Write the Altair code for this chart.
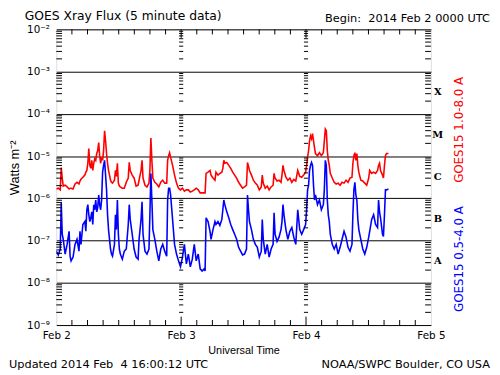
import altair as alt
import pandas as pd
import numpy as np

# ---- data (hours since 2014-02-02 00:00 UTC, log10 of flux in W m^-2) ----
hours = [
    0.00, 0.38, 0.76, 0.95, 1.14, 1.33, 1.70, 2.08, 2.46, 2.65,
    2.84, 3.22, 3.60, 3.98, 4.36, 4.55, 4.74, 5.11, 5.49, 5.68,
    5.87, 6.06, 6.25, 6.44, 6.63, 6.82, 7.01, 7.20, 7.39, 7.58,
    7.77, 7.96, 8.15, 8.33, 8.52, 8.71, 8.90, 9.09, 9.28, 9.47,
    9.66, 9.85, 10.04, 10.23, 10.42, 10.61, 10.80, 11.18, 11.37, 11.55,
    11.74, 11.93, 12.12, 12.31, 12.69, 13.07, 13.45, 13.83, 14.02, 14.21,
    14.59, 14.96, 15.34, 15.72, 15.91, 16.29, 16.48, 16.67, 17.05, 17.43,
    17.81, 17.99, 18.18, 18.37, 18.56, 18.94, 19.32, 19.70, 20.08, 20.46,
    20.84, 21.22, 21.40, 21.59, 21.78, 21.97, 22.35, 22.73, 23.11, 23.49,
    23.87, 24.25, 24.62, 25.00, 25.38, 25.76, 26.14, 26.52, 26.90, 27.28,
    27.66, 28.03, 28.41, 28.60, 28.79, 29.17, 29.55, 29.74, 30.12, 30.50,
    30.69, 31.07, 31.44, 31.82, 32.01, 32.20, 32.39, 32.77, 33.15, 33.53,
    33.91, 34.28, 34.66, 35.04, 35.42, 35.80, 36.18, 36.56, 36.75, 36.94,
    37.13, 37.51, 37.88, 38.26, 38.64, 39.02, 39.40, 39.59, 39.78, 40.16,
    40.54, 40.91, 41.29, 41.67, 41.86, 42.05, 42.43, 42.81, 43.19, 43.38,
    43.57, 43.76, 44.13, 44.51, 44.89, 45.27, 45.65, 46.03, 46.41, 46.79,
    47.17, 47.54, 47.92, 48.11, 48.30, 48.49, 48.68, 48.87, 49.06, 49.25,
    49.44, 49.63, 49.82, 50.20, 50.58, 50.95, 51.33, 51.52, 51.71, 51.90,
    52.09, 52.28, 52.47, 52.66, 53.04, 53.42, 53.80, 54.17, 54.55, 54.93,
    55.31, 55.69, 56.07, 56.45, 56.83, 57.01, 57.20, 57.39, 57.58, 57.77,
    57.96, 58.15, 58.53, 58.91, 59.29, 59.67, 60.05, 60.24, 60.62, 60.99,
    61.37, 61.75, 61.94, 62.13, 62.32, 62.70, 62.88, 63.08, 63.27, 63.46,
    63.84,
]

long_log10 = [  # GOES15 1.0-8.0 A (red)
    -5.78, -5.76, -5.80, -5.27, -5.52, -5.71, -5.69, -5.73, -5.78, -5.76,
    -5.76, -5.78, -5.66, -5.62, -5.66, -5.59, -5.55, -5.50, -5.45, -5.38,
    -5.34, -5.17, -4.82, -5.22, -5.29, -5.10, -5.34, -5.17, -5.06, -5.10,
    -4.94, -4.87, -4.68, -4.99, -5.17, -5.03, -5.10, -4.87, -4.40, -4.64,
    -4.94, -5.17, -5.34, -5.45, -5.57, -5.62, -5.64, -5.57, -5.34, -5.48,
    -5.17, -5.64, -5.71, -5.73, -5.76, -5.76, -5.62, -5.52, -5.15, -5.34,
    -5.45, -5.52, -5.71, -5.69, -5.57, -5.34, -5.10, -5.52, -5.69, -5.73,
    -5.64, -5.34, -4.57, -5.10, -5.52, -5.62, -5.66, -5.73, -5.62, -5.57,
    -5.64, -5.64, -5.10, -4.99, -4.92, -5.03, -5.22, -5.45, -5.64, -5.76,
    -5.80, -5.76, -5.83, -5.80, -5.80, -5.85, -5.83, -5.80, -5.76, -5.80,
    -5.87, -5.87, -5.87, -5.87, -5.41, -5.38, -5.34, -5.45, -5.52, -5.57,
    -5.38, -5.45, -5.41, -5.38, -5.29, -5.10, -5.17, -5.15, -5.22, -5.29,
    -5.38, -5.45, -5.52, -5.62, -5.69, -5.76, -5.73, -5.69, -5.15, -5.24,
    -5.34, -5.45, -5.57, -5.64, -5.69, -5.80, -5.73, -5.45, -5.64, -5.76,
    -5.71, -5.80, -5.73, -5.69, -5.41, -5.52, -5.59, -5.57, -5.62, -5.45,
    -5.22, -5.34, -5.50, -5.57, -5.52, -5.62, -5.55, -5.59, -5.34, -5.48,
    -5.50, -5.45, -5.38, -5.22, -5.03, -4.87, -4.64, -4.52, -4.59, -4.47,
    -4.64, -4.80, -4.94, -4.99, -4.92, -4.99, -4.92, -4.64, -4.36, -4.40,
    -4.87, -5.10, -5.22, -5.41, -5.52, -5.62, -5.66, -5.64, -5.69, -5.62,
    -5.64, -5.57, -5.62, -5.52, -5.50, -5.17, -4.99, -4.92, -5.10, -4.94,
    -5.22, -5.38, -5.57, -5.59, -5.64, -5.69, -5.52, -5.34, -5.41, -5.38,
    -5.41, -5.34, -5.22, -5.17, -5.34, -5.45, -5.52, -5.22, -4.99, -4.94,
    -4.94,
]

short_log10 = [  # GOES15 0.5-4.0 A (blue)
    -7.25, -7.34, -7.20, -6.11, -6.85, -6.97, -7.32, -7.09, -6.78, -7.37,
    -7.48, -7.39, -7.09, -6.97, -7.25, -6.78, -7.09, -6.62, -6.55, -6.78,
    -6.27, -6.15, -6.39, -6.55, -6.46, -6.32, -6.62, -6.15, -6.27, -6.04,
    -6.32, -6.22, -5.92, -6.15, -6.27, -6.04, -5.38, -5.22, -5.10, -5.45,
    -5.80, -6.39, -6.74, -6.97, -7.20, -7.32, -7.37, -7.09, -6.39, -6.74,
    -6.04, -6.85, -7.20, -7.32, -7.44, -7.25, -7.20, -6.62, -6.15, -6.50,
    -6.85, -7.20, -7.39, -7.44, -6.97, -6.50, -6.08, -6.85, -7.25, -7.32,
    -7.20, -6.39, -5.41, -6.04, -6.74, -6.97, -7.25, -7.48, -7.20, -7.09,
    -7.25, -7.37, -6.04, -5.76, -5.76, -5.92, -6.50, -7.09, -7.32, -7.48,
    -7.62, -7.39, -7.09, -7.55, -7.32, -7.62, -7.44, -7.09, -7.48, -7.32,
    -7.67, -7.72, -7.67, -7.72, -6.46, -6.55, -6.78, -6.97, -6.74, -6.55,
    -6.62, -6.55, -6.64, -6.50, -6.27, -6.04, -6.15, -6.32, -6.46, -6.62,
    -6.74, -6.85, -6.97, -7.16, -7.25, -7.34, -7.32, -7.20, -5.92, -6.27,
    -6.55, -6.74, -6.97, -7.09, -7.16, -7.39, -7.25, -6.50, -6.97, -7.32,
    -7.09, -7.39, -7.20, -7.09, -6.34, -6.85, -7.02, -6.92, -6.74, -6.55,
    -6.15, -6.39, -6.74, -6.97, -6.78, -6.69, -6.92, -7.09, -6.27, -6.74,
    -6.85, -6.74, -6.62, -6.27, -5.80, -5.69, -5.34, -5.22, -5.15, -5.22,
    -5.69, -6.04, -5.92, -6.15, -6.04, -6.27, -6.15, -5.80, -5.10, -5.22,
    -6.04, -6.39, -6.55, -6.85, -7.09, -7.20, -7.09, -7.32, -7.16, -6.97,
    -6.78, -6.92, -7.16, -7.25, -7.09, -6.39, -5.80, -5.62, -5.92, -6.04,
    -6.50, -6.74, -6.97, -7.20, -7.32, -7.16, -6.92, -6.78, -6.50, -6.39,
    -6.62, -6.69, -6.04, -6.32, -6.46, -6.85, -6.90, -6.39, -5.80, -5.80,
    -5.78,
]

series_names = ["GOES15 1.0-8.0 A", "GOES15 0.5-4.0 A"]
series_colors = ["#ff0000", "#0000ff"]

day_hours = [0, 24, 48, 72]
day_labels = ["Feb 2", "Feb 3", "Feb 4", "Feb 5"]
decade_exps = [-9, -8, -7, -6, -5, -4, -3, -2]
superscripts = ["⁰", "¹", "²", "³", "⁴", "⁵", "⁶", "⁷", "⁸", "⁹"]
class_letters = ["A", "B", "C", "M", "X"]
class_flux = [3.2e-8, 3.2e-7, 3.2e-6, 3.2e-5, 3.2e-4]
hour_ticks = list(range(3, 72, 3))

# ---- tables ----
df = pd.DataFrame({
    "hours": hours + hours,
    "flux": [10 ** v for v in long_log10] + [10 ** v for v in short_log10],
    "series": [series_names[0]] * len(hours) + [series_names[1]] * len(hours),
    "order": [0] * len(hours) + [1] * len(hours),
})

decade_vals = [10.0 ** e for e in decade_exps]
minor_vals = [m * 10.0 ** e for e in range(-9, -2) for m in range(2, 10)]

ytick_rows = []
for v in minor_vals:
    for a, b in [(0, 1.1), (70.9, 72), (23.6, 24.4), (47.6, 48.4)]:
        ytick_rows.append({"hours": a, "x2": b, "flux": v})
ytick_df = pd.DataFrame(ytick_rows)

xtick_rows = []
for h in hour_ticks:
    d = 0.2 if h % 24 == 0 else 0.12
    xtick_rows.append({"hours": h, "flux": 1e-9, "y2": 10 ** (-9 + d)})
    xtick_rows.append({"hours": h, "flux": 1e-2, "y2": 10 ** (-2 - d)})
xtick_df = pd.DataFrame(xtick_rows)

letters_df = pd.DataFrame({"letter": class_letters, "flux": class_flux})

# ---- scales & axes ----
FONT = "DejaVu Sans"
FONT2 = "Liberation Sans"
X_SCALE = alt.Scale(domain=[0, 72], nice=False, zero=False)
Y_SCALE = alt.Scale(type="log", domain=[1e-9, 1e-2], nice=False)

sup_arr = "[" + ",".join("'" + s + "'" for s in superscripts) + "]"
day_arr = "[" + ",".join("'" + s + "'" for s in day_labels) + "]"

x_axis = alt.Axis(
    values=day_hours, labelExpr=day_arr + "[round(datum.value/24)]",
    title="Universal Time", grid=False, ticks=False, tickSize=0, domain=False,
    labelFontSize=10.5, labelPadding=6, labelColor="black", labelFont=FONT,
    titleFontSize=11, titleFontWeight="normal", titlePadding=3,
    titleColor="black", titleFont=FONT2, labelFlush=False,
)
y_axis = alt.Axis(
    values=decade_vals,
    labelExpr="'10⁻' + " + sup_arr + "[round(-log(datum.value)/LN10)]",
    title="Watts m⁻²", grid=True, gridColor="black", gridOpacity=1, gridWidth=1,
    ticks=False, tickSize=0, domain=False,
    labelFontSize=10.5, labelPadding=7, labelColor="black", labelFont=FONT,
    titleFontSize=13, titleFontWeight="normal", titlePadding=5, titleY=140,
    titleColor="black", titleFont=FONT2, labelFlush=False,
)


def X(field):
    return alt.X(field, type="quantitative", scale=X_SCALE, axis=x_axis, title="Universal Time")


def Y(field):
    return alt.Y(field, type="quantitative", scale=Y_SCALE, axis=y_axis, title="Watts m⁻²")


lines = alt.Chart(df).mark_line(strokeWidth=1.6, clip=True).encode(
    x=X("hours"),
    y=Y("flux"),
    color=alt.Color("series:N", scale=alt.Scale(domain=series_names, range=series_colors), legend=None),
    order="order:Q",
)

yticks = alt.Chart(ytick_df).mark_rule(color="black", strokeWidth=1).encode(
    x=X("hours"),
    x2="x2:Q",
    y=Y("flux"),
)

xticks = alt.Chart(xtick_df).mark_rule(color="black", strokeWidth=1).encode(
    x=X("hours"),
    y=Y("flux"),
    y2="y2:Q",
)

letters = alt.Chart(letters_df).mark_text(
    font="DejaVu Serif", fontWeight="bold", fontSize=10, color="black", align="center", baseline="middle"
).encode(
    x=alt.value(387),
    y=Y("flux"),
    text="letter:N",
)


def label(txt, x, y, size=12, color="black", align="left", angle=0, font=FONT, baseline="middle"):
    return alt.Chart(pd.DataFrame({"t": [txt]})).mark_text(
        font=font, fontSize=size, color=color, align=align, baseline=baseline, angle=angle
    ).encode(text="t:N", x=alt.value(x), y=alt.value(y))


NB = "\u00a0"
texts = [
    label("GOES Xray Flux (5 minute data)", -32, -19, size=12.5, baseline="top"),
    label("Begin:" + NB + NB + "2014 Feb 2 0000 UTC", 440, -10, size=11.5, align="right"),
    label(series_names[0], 409, 102, size=12, color=series_colors[0], align="center", angle=270),
    label(series_names[1], 409, 233, size=12, color=series_colors[1], align="center", angle=270),
    label("Updated 2014 Feb" + NB + NB + "4 16:00:12 UTC", -48, 341, size=11.5),
    label("NOAA/SWPC Boulder, CO USA", 440, 341, size=11.5, align="right"),
]

chart = alt.layer(lines, yticks, xticks, letters, *texts).properties(
    width=380,
    height=300,
    autosize=alt.AutoSizeParams(type="none"),
    padding={"left": 49, "top": 19, "right": 62, "bottom": 48},
).configure_view(stroke="black", strokeWidth=1).configure(background="white")

chart.save("out.html", embed_options={"renderer": "svg", "actions": False})
